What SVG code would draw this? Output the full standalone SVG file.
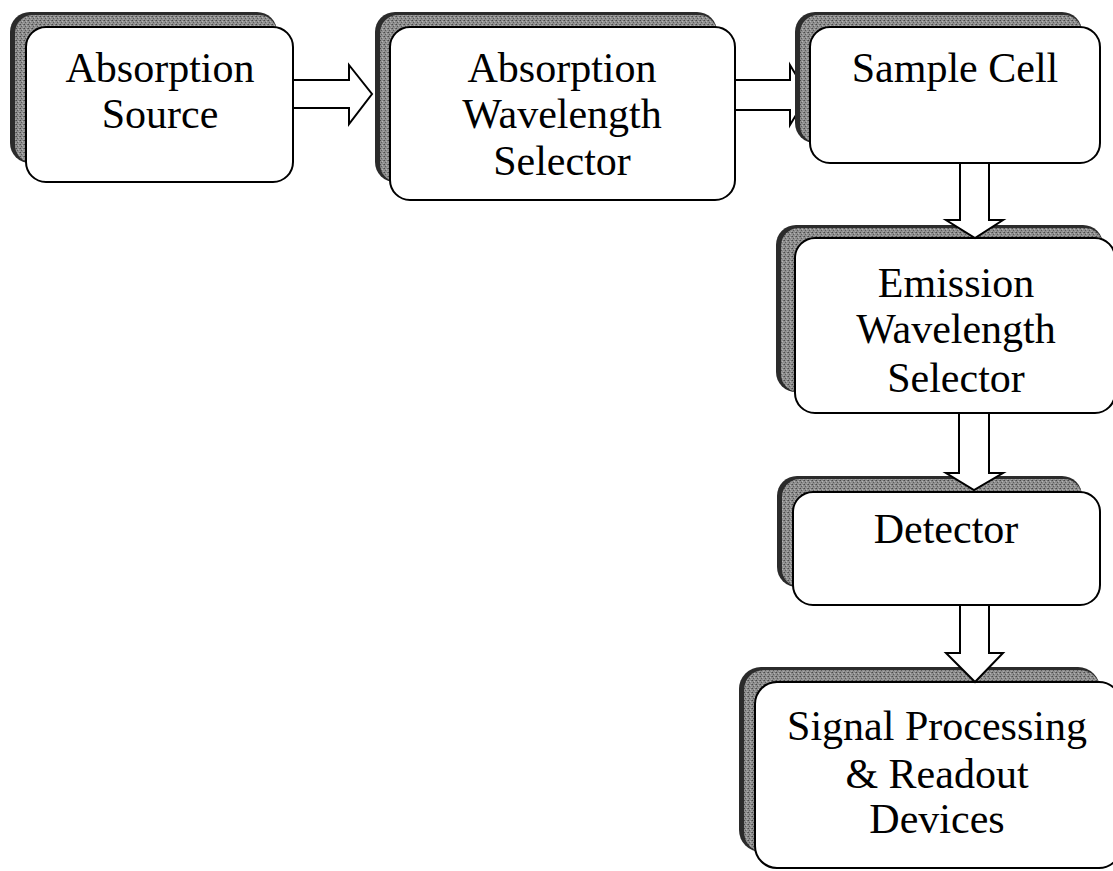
<svg xmlns="http://www.w3.org/2000/svg" width="1113" height="871" viewBox="0 0 1113 871">
<style>
.front{fill:#fff;stroke:#000;stroke-width:2}
.shdark{fill:#2b2b2b}
.shlight{fill:url(#noise)}
.lbl{font-family:"Liberation Serif","Times New Roman",serif;font-size:42px;fill:#000;text-anchor:middle}
.arrow{fill:#fff;stroke:#000;stroke-width:2;stroke-linejoin:miter}
</style>
<defs>
<pattern id="noise" width="4" height="4" patternUnits="userSpaceOnUse">
<rect width="4" height="4" fill="#8e8e8e"/>
<rect x="0" y="0" width="1" height="1" fill="#4a4a4a"/>
<rect x="2" y="1" width="1" height="1" fill="#b4b4b4"/>
<rect x="1" y="2" width="1" height="1" fill="#5a5a5a"/>
<rect x="3" y="3" width="1" height="1" fill="#a8a8a8"/>
<rect x="3" y="0" width="1" height="1" fill="#6a6a6a"/>
</pattern>
<clipPath id="clipA2"><rect x="700" y="50" width="97" height="90"/></clipPath>
</defs>

<g id="connectors-back">
<polygon class="arrow" clip-path="url(#clipA2)" points="735,80 790,80 790,65 808,95 790,125 790,110 735,110"/>
</g>

<g id="node-absorption-source">
<rect class="shdark" x="10" y="12" width="267" height="151" rx="20"/>
<rect class="shlight" x="15" y="15" width="262" height="148" rx="18"/>
<rect class="front" x="26" y="27" width="267" height="155" rx="20"/>
<text class="lbl" x="160" y="82">Absorption</text>
<text class="lbl" x="160" y="128">Source</text>
</g>

<g id="node-absorption-selector">
<rect class="shdark" x="375" y="12" width="342" height="170" rx="20"/>
<rect class="shlight" x="380" y="15" width="337" height="167" rx="18"/>
<rect class="front" x="390" y="27" width="345" height="173" rx="20"/>
<text class="lbl" x="562" y="82">Absorption</text>
<text class="lbl" x="562" y="128">Wavelength</text>
<text class="lbl" x="562" y="175">Selector</text>
</g>

<g id="node-sample-cell">
<rect class="shdark" x="795" y="12" width="287" height="131" rx="20"/>
<rect class="shlight" x="800" y="15" width="282" height="128" rx="18"/>
<rect class="front" x="810" y="27" width="290" height="136" rx="20"/>
<text class="lbl" x="955" y="82">Sample Cell</text>
</g>

<g id="node-emission-selector">
<rect class="shdark" x="776" y="225" width="327" height="167" rx="20"/>
<rect class="shlight" x="781" y="228" width="322" height="164" rx="18"/>
<rect class="front" x="795" y="238" width="320" height="175" rx="20"/>
<text class="lbl" x="956" y="297">Emission</text>
<text class="lbl" x="956" y="343">Wavelength</text>
<text class="lbl" x="956" y="392">Selector</text>
</g>

<g id="node-detector">
<rect class="shdark" x="777" y="476" width="305" height="111" rx="20"/>
<rect class="shlight" x="782" y="479" width="300" height="108" rx="18"/>
<rect class="front" x="793" y="492" width="307" height="113" rx="20"/>
<text class="lbl" x="946" y="543">Detector</text>
</g>

<g id="node-signal-processing">
<rect class="shdark" x="739" y="667" width="361" height="185" rx="22"/>
<rect class="shlight" x="744" y="670" width="356" height="182" rx="20"/>
<rect class="front" x="755" y="682" width="366" height="186" rx="22"/>
<text class="lbl" x="937" y="740">Signal Processing</text>
<text class="lbl" x="937" y="788">&amp; Readout</text>
<text class="lbl" x="937" y="833">Devices</text>
</g>

<g id="connectors">
<polygon class="arrow" points="293,80 349,80 349,65 372,94 349,124 349,108 293,108"/>
<polygon class="arrow" points="960,163 960,220 946,220 975,238 1003,220 989,220 989,163"/>
<polygon class="arrow" points="959,413 959,473 946,473 974,490 1003,473 989,473 989,413"/>
<polygon class="arrow" points="960,605 960,653 946,653 975,682 1003,653 989,653 989,605"/>
</g>
</svg>
